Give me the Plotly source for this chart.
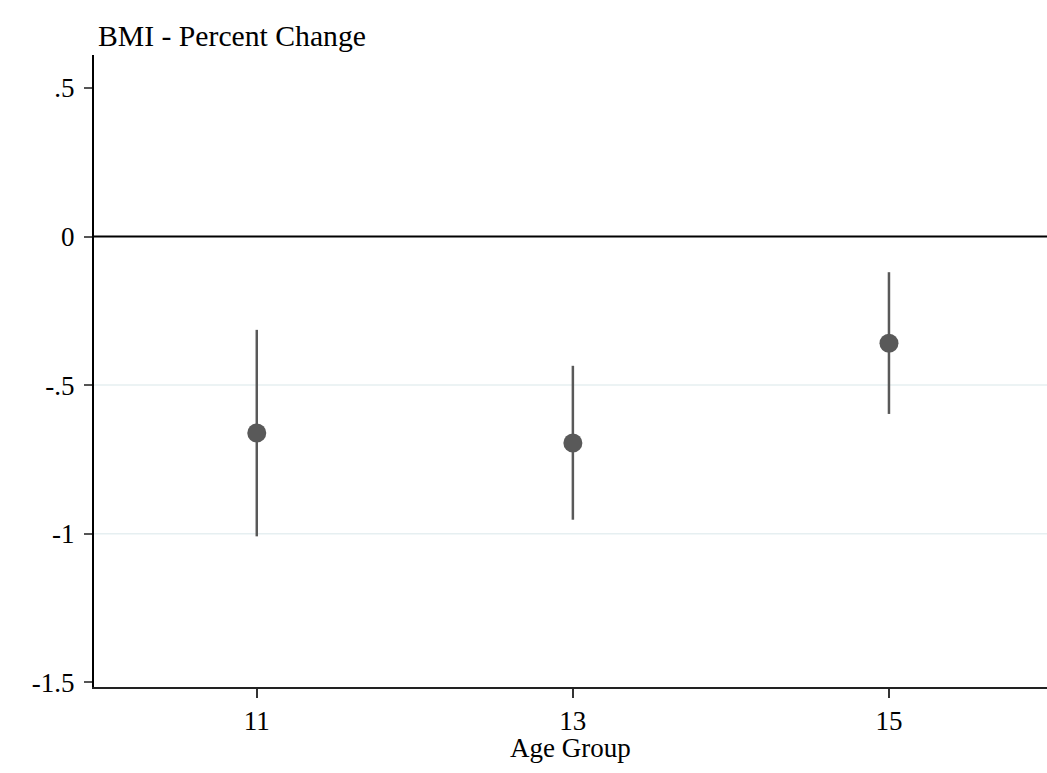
import plotly.graph_objects as go

ages = [11, 13, 15]
estimates = [-0.661, -0.695, -0.359]
ci_upper = [-0.314, -0.435, -0.120]
ci_lower = [-1.009, -0.953, -0.597]
ytick_vals = [0.5, 0, -0.5, -1, -1.5]
ytick_text = [".5", "0", "-.5", "-1", "-1.5"]
grid_vals = [-0.5, -1]
xtick_vals = [11, 13, 15]

FONT = "Liberation Serif"
GRAY = "#595959"

fig = go.Figure()

# gridlines at selected ticks
for g in grid_vals:
    fig.add_shape(type="line", xref="paper", x0=0, x1=1, yref="y", y0=g, y1=g,
                  line=dict(color="#e6eff1", width=1.5), layer="below")

# zero reference line
fig.add_shape(type="line", xref="paper", x0=0, x1=1, yref="y", y0=0, y1=0,
              line=dict(color="black", width=2), layer="below")

# confidence intervals
for a, lo, hi in zip(ages, ci_lower, ci_upper):
    fig.add_trace(go.Scatter(x=[a, a], y=[lo, hi], mode="lines",
                             line=dict(color=GRAY, width=2.5),
                             showlegend=False, hoverinfo="skip"))

fig.add_trace(go.Scatter(x=ages, y=estimates, mode="markers",
                         marker=dict(color=GRAY, size=19),
                         showlegend=False))

fig.update_layout(
    width=1047, height=773,
    paper_bgcolor="white", plot_bgcolor="white",
    margin=dict(l=94, r=0, t=55, b=86),
    font=dict(family=FONT, size=27, color="black"),
    xaxis=dict(range=[9.97, 16], tickvals=xtick_vals, showgrid=False,
               zeroline=False, showline=True, linecolor="#222222", linewidth=2,
               ticks="outside", ticklen=9, tickwidth=1.5, tickcolor="#333333",
               tickfont=dict(family=FONT, size=27, color="black")),
    yaxis=dict(range=[-1.516, 0.611], tickvals=ytick_vals, ticktext=ytick_text,
               showgrid=False, zeroline=False, showline=True, linecolor="black",
               linewidth=2, ticks="outside", ticklen=8, tickwidth=1.5,
               tickcolor="#555555", ticklabelstandoff=4,
               tickfont=dict(family=FONT, size=27, color="black")),
    annotations=[
        dict(text="BMI - Percent Change", xref="paper", yref="paper",
             x=0, y=1, xanchor="left", yanchor="bottom", yshift=1, xshift=2,
             showarrow=False, font=dict(family=FONT, size=29.7, color="black")),
        dict(text="Age Group", xref="paper", yref="paper",
             x=0.5, y=0, xanchor="center", yanchor="middle", yshift=-61,
             showarrow=False, font=dict(family=FONT, size=27, color="black")),
    ],
)

fig.write_html(
    "out.html",
    config={"displayModeBar": False},
    post_script="document.body.style.margin='0';document.body.style.overflow='hidden';",
)
